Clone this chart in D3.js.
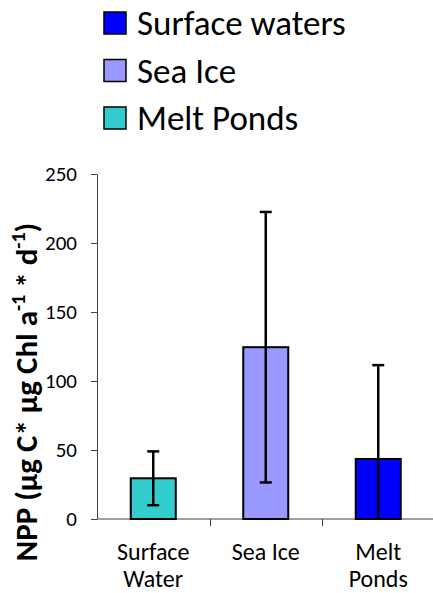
<!DOCTYPE html>
<html lang="en">
<head>
    <meta charset="UTF-8">
    <title>NPP by habitat</title>
    <script src="https://cdn.jsdelivr.net/npm/d3@7/dist/d3.min.js"></script>
    <style>
        body { margin: 0; background: #fff; }
        text { font-family: Carlito, Lato, sans-serif; fill: #000; }
    </style>
</head>
<body>

<script>

    // data
    const categories = ["Surface\nWater", "Sea Ice", "Melt\nPonds"];
    const npp = [29.5, 124.5, 43.5];
    const npp_err = [19.5, 98, 68];
    const legend_labels = ["Surface waters", "Sea Ice", "Melt Ponds"];
    const y_ticks = [0, 50, 100, 150, 200, 250];

    const bar_colors = ["#33cccc", "#9999ff", "#0000ff"];
    const legend_colors = ["#0000ff", "#9999ff", "#33cccc"];

    const width = 433;
    const height = 593;
    const margin = {top: 174, right: -1.5, bottom: 74, left: 97};

    const svg = d3.select("body").append("svg")
        .attr("width", width)
        .attr("height", height);

    const x = d3.scaleBand()
        .domain(categories)
        .range([margin.left, width - margin.right]);

    const y = d3.scaleLinear()
        .domain([0, 250])
        .range([height - margin.bottom, margin.top]);

    const bar_w = x.bandwidth() * 0.4;

    // y axis
    const y_axis = svg.append("g")
        .attr("transform", `translate(${margin.left},0)`)
        .call(d3.axisLeft(y).tickValues(y_ticks).tickSize(6).tickSizeOuter(0).tickPadding(14));
    y_axis.selectAll("path, line").attr("stroke", "#404040");
    y_axis.selectAll("text").attr("font-size", 21).attr("font-family", null);

    // x axis: baseline plus ticks between categories
    const x_axis = svg.append("g");
    x_axis.append("line")
        .attr("x1", margin.left).attr("x2", width)
        .attr("y1", y(0)).attr("y2", y(0))
        .attr("stroke", "#404040");
    x_axis.selectAll("line.tick")
        .data(categories.slice(1))
        .join("line")
        .attr("class", "tick")
        .attr("x1", d => Math.round(x(d)) + 0.5).attr("x2", d => Math.round(x(d)) + 0.5)
        .attr("y1", y(0)).attr("y2", y(0) + 7)
        .attr("stroke", "#404040");

    // category labels, one text per line
    const cat_lines = categories.flatMap(c => c.split("\n").map((t, i) => ({c, t, i})));
    x_axis.selectAll("text")
        .data(cat_lines)
        .join("text")
        .attr("text-anchor", "middle")
        .attr("font-size", 24)
        .attr("x", d => x(d.c) + x.bandwidth() / 2)
        .attr("y", d => 560 + d.i * 26.5)
        .text(d => d.t);

    // bars
    svg.append("g")
        .selectAll("rect")
        .data(categories)
        .join("rect")
        .attr("x", d => x(d) + (x.bandwidth() - bar_w) / 2)
        .attr("width", bar_w)
        .attr("y", (d, i) => y(npp[i]))
        .attr("height", (d, i) => y(0) - y(npp[i]))
        .attr("fill", (d, i) => bar_colors[i])
        .attr("stroke", "#000")
        .attr("stroke-width", 2);

    // error bars, clipped at zero
    const err = svg.append("g")
        .attr("stroke", "#000")
        .attr("stroke-width", 2.5)
        .selectAll("g")
        .data(categories)
        .join("g")
        .attr("transform", d => `translate(${x(d) + x.bandwidth() / 2},0)`);

    err.append("line")
        .attr("y1", (d, i) => y(Math.max(0, npp[i] - npp_err[i])))
        .attr("y2", (d, i) => y(npp[i] + npp_err[i]));
    err.append("line")
        .attr("x1", -6).attr("x2", 6)
        .attr("y1", (d, i) => y(npp[i] + npp_err[i]))
        .attr("y2", (d, i) => y(npp[i] + npp_err[i]));
    err.filter((d, i) => npp[i] - npp_err[i] >= 0)
        .append("line")
        .attr("x1", -6).attr("x2", 6)
        .attr("y1", (d, i) => y(npp[i] - npp_err[i]))
        .attr("y2", (d, i) => y(npp[i] - npp_err[i]));

    // y title
    const title = svg.append("text")
        .attr("transform", "translate(37,392) rotate(-90)")
        .attr("text-anchor", "middle")
        .attr("font-size", 31)
        .attr("font-weight", "bold");
    title.append("tspan").text("NPP (µg C* µg Chl a");
    title.append("tspan").attr("font-size", 20).attr("dy", -12).text("-1");
    title.append("tspan").attr("dy", 12).text(" * d");
    title.append("tspan").attr("font-size", 20).attr("dy", -12).text("-1");
    title.append("tspan").attr("dy", 12).text(")");

    // legend
    const legend = svg.append("g")
        .selectAll("g")
        .data(legend_labels)
        .join("g")
        .attr("transform", (d, i) => `translate(104,${12 + i * 47.5})`);

    legend.append("rect")
        .attr("width", 22)
        .attr("height", 22)
        .attr("fill", (d, i) => legend_colors[i])
        .attr("stroke", "#000")
        .attr("stroke-width", 1.5);

    legend.append("text")
        .attr("x", 33)
        .attr("y", 23)
        .attr("font-size", 35)
        .text(d => d);

</script>

</body>
</html>
